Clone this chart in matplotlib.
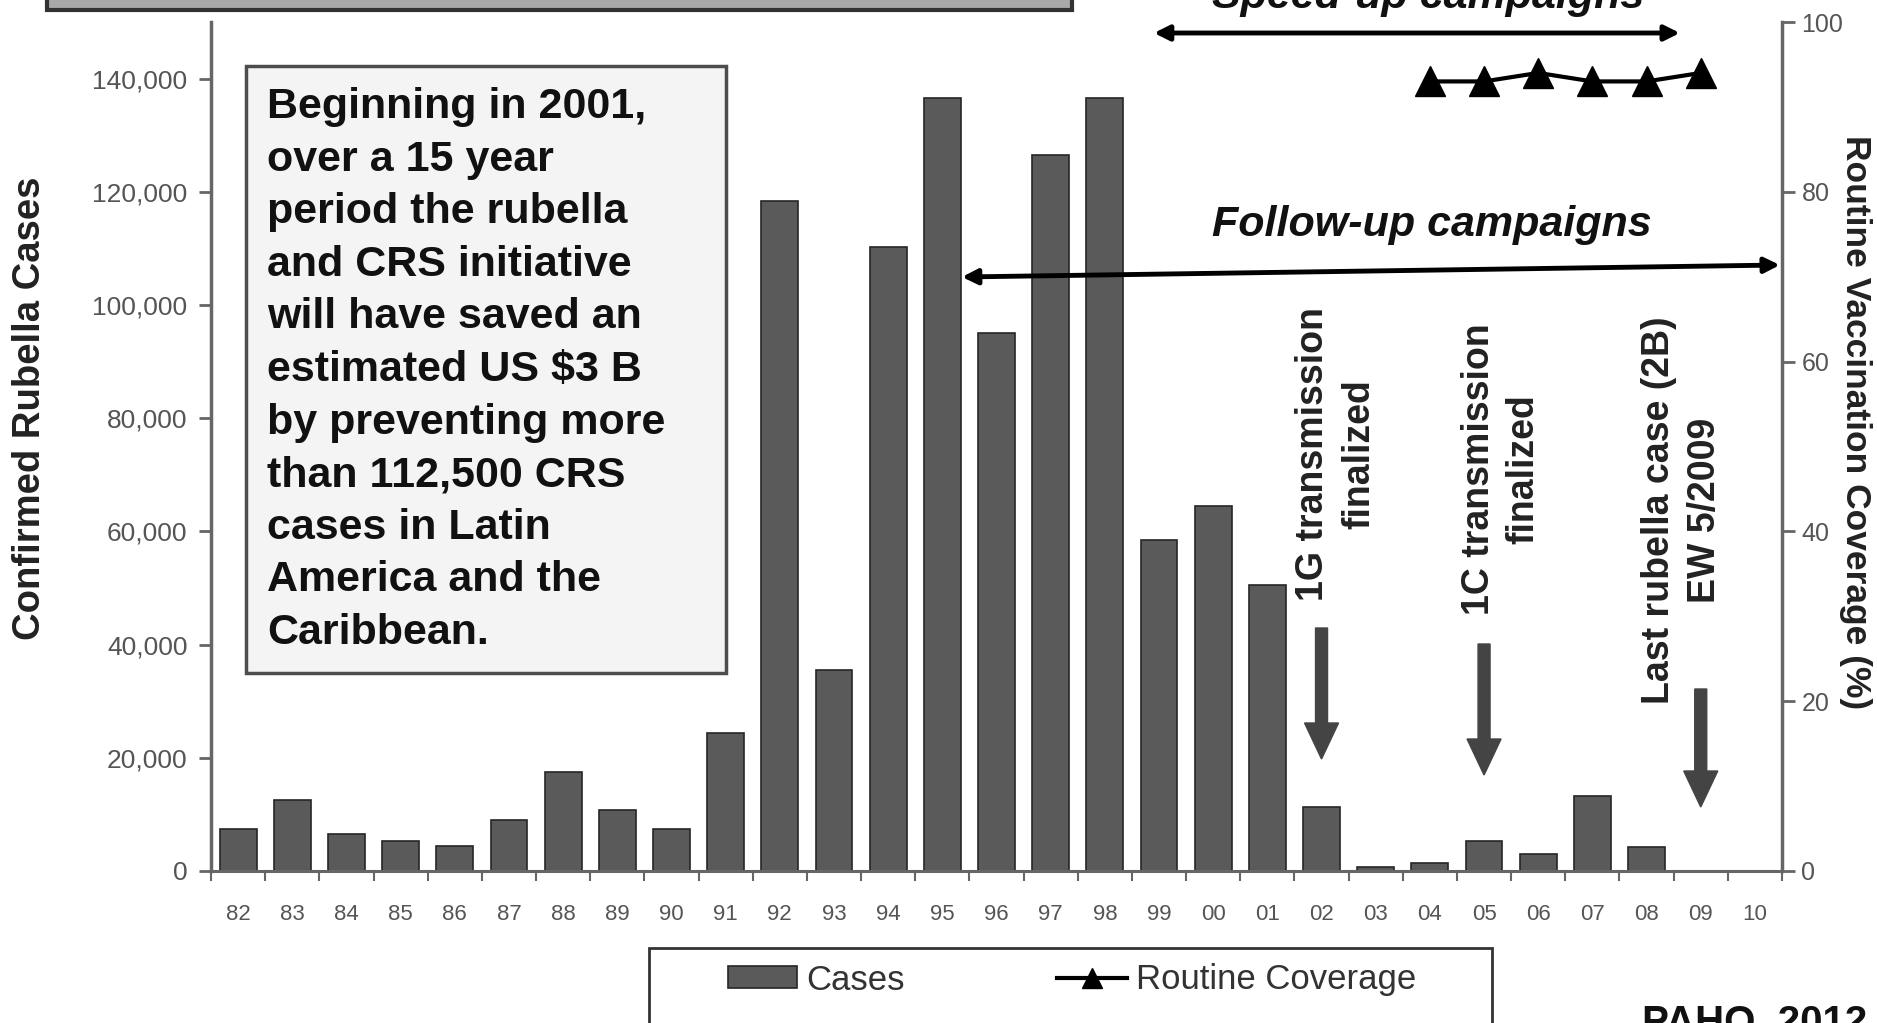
import matplotlib
matplotlib.use("Agg")
import matplotlib.pyplot as plt
from matplotlib.patches import Rectangle, FancyArrow, Patch
from matplotlib.lines import Line2D
from matplotlib.ticker import FuncFormatter, MultipleLocator, FixedLocator
import numpy as np

plt.rcParams['font.family'] = ['Liberation Sans', 'DejaVu Sans']

# ---------------- data ----------------
years = ['82', '83', '84', '85', '86', '87', '88', '89', '90', '91', '92', '93', '94', '95',
         '96', '97', '98', '99', '00', '01', '02', '03', '04', '05', '06', '07', '08', '09', '10']
cases = [7500, 12500, 6500, 5300, 4500, 9000, 17500, 10700, 7500, 24400, 118300, 35500,
         110300, 136500, 95000, 126500, 136500, 58500, 64500, 50500, 11300, 700, 1500,
         5300, 3000, 13300, 4200, 0, 0]
coverage_years = ['04', '05', '06', '07', '08', '09']
coverage = [93, 93, 94, 93, 93, 94]

box_lines = ["Beginning in 2001,", "over a 15 year", "period the rubella",
             "and CRS initiative", "will have saved an", "estimated US $3 B",
             "by preventing more", "than 112,500 CRS", "cases in Latin",
             "America and the", "Caribbean."]

W, H = 1877, 1023
fig = plt.figure(figsize=(W / 100, H / 100), dpi=100)


def fx(px):
    return px / W


def fy(py):
    return 1 - py / H


ax_l, ax_r, ax_t, ax_b = 211, 1782, 22, 871
ax = fig.add_axes([fx(ax_l), fy(ax_b), (ax_r - ax_l) / W, (ax_b - ax_t) / H])
ax2 = ax.twinx()

x = np.arange(len(years))
ax.bar(x, cases, width=0.68, color='#5a5a5a', edgecolor='#262626', linewidth=1.2, zorder=2,
       label='Cases')
ax.set_xlim(-0.5, len(years) - 0.5)
ax.set_ylim(0, 150000)

cx = [years.index(y) for y in coverage_years]
ax2.plot(cx, coverage, '-^', color='black', lw=3, ms=21, zorder=5, label='Routine Coverage')
ax2.set_ylim(0, 100)

# spines
for s in ['top', 'right']:
    ax.spines[s].set_visible(False)
for s in ['top', 'left', 'bottom']:
    ax2.spines[s].set_visible(False)
ax.spines['left'].set_color('#666666')
ax.spines['left'].set_linewidth(2.5)
ax.spines['bottom'].set_color('#666666')
ax.spines['bottom'].set_linewidth(2.2)
ax2.spines['right'].set_color('#666666')
ax2.spines['right'].set_linewidth(2.5)

# left ticks
ax.yaxis.set_major_locator(MultipleLocator(20000))
ax.yaxis.set_major_formatter(FuncFormatter(lambda v, p: f"{int(v):,}"))
ax.set_ylim(0, 150000)
ax.tick_params(axis='y', direction='out', length=9, width=2, color='#666666',
               labelsize=19, labelcolor='#555555', pad=8)
# x ticks
ax.set_xticks(x)
ax.set_xticklabels(years)
ax.xaxis.set_minor_locator(FixedLocator(np.arange(-0.5, len(years), 1.0)))
ax.tick_params(axis='x', which='major', length=0, labelsize=16, labelcolor='#555555', pad=24)
ax.tick_params(axis='x', which='minor', direction='out', length=7, width=1.5, color='#666666')
# right ticks
ax2.yaxis.set_major_locator(MultipleLocator(20))
ax2.tick_params(axis='y', direction='out', length=9, width=2, color='#666666',
                labelsize=18, labelcolor='#555555', pad=5)

# axis labels
ax.set_ylabel('Confirmed Rubella Cases', fontsize=27.5, fontweight='bold', color='#222222',
              va='center', ha='center')
ax.yaxis.set_label_coords((30 - ax_l) / (ax_r - ax_l), (ax_b - 408) / (ax_b - ax_t))
ax2.set_ylabel('Routine Vaccination Coverage (%)', fontsize=25.5, fontweight='bold',
               color='#222222', rotation=270, va='center', ha='center')
ax2.yaxis.set_label_coords((1855 - ax_l) / (ax_r - ax_l), (ax_b - 422) / (ax_b - ax_t))


# helpers: pixel -> data (ax2 coords)
def dxp(px):
    return (px - 238) / 54.18


def dyp(py):
    return (ax_b - py) / ((ax_b - ax_t) / 100.0)


# campaign arrows
ax2.annotate('', xy=(dxp(1154), dyp(33)), xytext=(dxp(1680), dyp(33)),
             arrowprops=dict(arrowstyle='<|-|>,head_length=0.9,head_width=0.45', color='black',
                             lw=3.5, shrinkA=0, shrinkB=0), annotation_clip=False)
ax2.annotate('', xy=(dxp(962), dyp(277)), xytext=(dxp(1780), dyp(265)),
             arrowprops=dict(arrowstyle='<|-|>,head_length=0.9,head_width=0.45', color='black',
                             lw=3.5, shrinkA=0, shrinkB=0), annotation_clip=False)
ax2.text(dxp(1432), dyp(225), 'Follow-up campaigns', fontsize=31, fontweight='bold',
         fontstyle='italic', ha='center', va='center', color='#111111')
fig.text(fx(1428), fy(8), 'Speed-up campaigns', fontsize=31, fontweight='bold',
         fontstyle='italic', ha='center', va='baseline', color='#111111')

# vertical annotations
vt = dict(fontsize=27, fontweight='bold', rotation=90, ha='center', va='center', color='#222222')
ax2.text(dxp(1313), dyp(454), '1G transmission', **vt)
ax2.text(dxp(1359), dyp(454), 'finalized', **vt)
ax2.text(dxp(1479), dyp(469), '1C transmission', **vt)
ax2.text(dxp(1523), dyp(469), 'finalized', **vt)
ax2.text(dxp(1659), dyp(510), 'Last rubella case (2B)', **vt)
ax2.text(dxp(1705), dyp(510), 'EW 5/2009', **vt)

# thick down arrows
for xi, top, tip in [(20, 628, 759), (23, 644, 775), (27, 689, 807)]:
    ax2.add_patch(FancyArrow(xi, dyp(top), 0, dyp(tip) - dyp(top), width=12 / 54.18,
                             head_width=34 / 54.18, head_length=36 / ((ax_b - ax_t) / 100.0),
                             length_includes_head=True, color='#444444', zorder=4))

# text box
fig.patches.append(Rectangle((fx(246), fy(673)), (726 - 246) / W, (673 - 66) / H,
                             transform=fig.transFigure, facecolor='#f4f4f4',
                             edgecolor='#4d4d4d', lw=2.5, zorder=3))
for i, line in enumerate(box_lines):
    fig.text(fx(267), fy(107 + i * 52.6), line, fontsize=31, fontweight='bold',
             ha='left', va='center', color='#111111', zorder=4)

# title box at top (cut off)
fig.patches.append(Rectangle((fx(47), fy(10)), (1072 - 47) / W, 0.08,
                             transform=fig.transFigure, facecolor='#a9a9a9',
                             edgecolor='#333333', lw=3, zorder=3, clip_on=False))

# legend box and legend
fig.patches.append(Rectangle((fx(649), fy(1060)), (1492 - 649) / W, (1060 - 948) / H,
                             transform=fig.transFigure, facecolor='white',
                             edgecolor='#333333', lw=2, zorder=1, clip_on=False))
handles = [Patch(facecolor='#5a5a5a', edgecolor='#262626', lw=1.2),
           Line2D([], [], color='black', lw=3, marker='^', ms=15)]
fig.legend(handles, ['Cases', 'Routine Coverage'], loc='center left',
           bbox_to_anchor=(fx(728), fy(980)), ncol=2, frameon=False, fontsize=25,
           handlelength=2.0, handleheight=0.6, handletextpad=0.25, columnspacing=4.4,
           borderpad=0, borderaxespad=0, labelcolor='#333333')

fig.text(fx(1642), fy(1003), 'PAHO, 2012', fontsize=29, fontweight='bold', ha='left',
         va='top', color='#111111')

fig.savefig('out.png', dpi=100)
